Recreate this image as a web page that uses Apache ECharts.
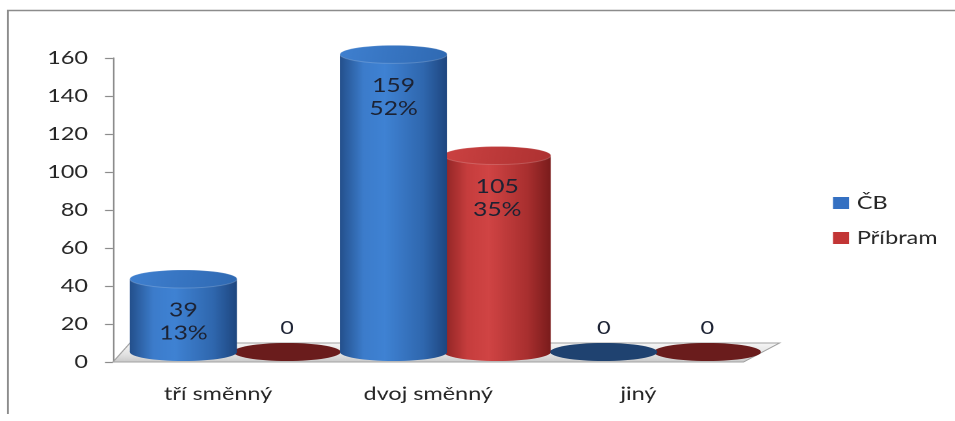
<!DOCTYPE html>
<html>
<head>
<meta charset="utf-8">
<script src="https://cdn.jsdelivr.net/npm/echarts@6/dist/echarts.min.js"></script>
<style>
  html, body { margin: 0; padding: 0; background: #fff; overflow: hidden; }
  #main { height: 421px; transform-origin: 0 0; }
</style>
</head>
<body>
<div id="main"></div>
<script>
// Shift types and counts per site
const categories = ['tří směnný', 'dvoj směnný', 'jiný'];
const seriesNames = ['ČB', 'Příbram'];
const cbValues = [39, 159, 0];
const cbPercents = [13, 52, 0];
const pribramValues = [0, 105, 0];
const pribramPercents = [0, 35, 0];

const FONT = 'Lato, "Noto Sans", sans-serif';

// The chart is laid out narrower and widened on screen by K,
// which gives the broad lettering; px() turns screen widths into layout widths.
const K = 1.3;
const SCREEN_W = 955;
const px = v => v / K;

const el = document.getElementById('main');
el.style.width = px(SCREEN_W) + 'px';
el.style.transform = 'scaleX(' + K + ')';

// cylinder look for each series
const looks = {
  'ČB': {
    offset: -0.165,
    body: ['#24508c', '#3c7ccb', '#3f82d3', '#2f67ae', '#1e467f'],
    top: ['#3f80d0', '#2f69b2'],
    flat: '#1f4270',
    legend: '#3470c2'
  },
  'Příbram': {
    offset: 0.328,
    body: ['#8e2424', '#c63d3d', '#d04444', '#a92f2f', '#7a1c1c'],
    top: ['#cc4242', '#ad3131'],
    flat: '#6a1c1c',
    legend: '#c23535'
  }
};

function hGrad(c) {
  return new echarts.graphic.LinearGradient(0, 0, 1, 0, [
    { offset: 0, color: c[0] },
    { offset: 0.22, color: c[1] },
    { offset: 0.42, color: c[2] },
    { offset: 0.78, color: c[3] },
    { offset: 1, color: c[4] }
  ]);
}

function cylinderRenderer(name, percents) {
  const look = looks[name];
  return function (params, api) {
    const idx = api.value(0);
    const val = api.value(1);
    const base = api.coord([idx, 0]);
    const top = api.coord([idx, val]);
    const band = api.size([1, 0])[0];
    const cx = base[0] + look.offset * band;
    const rx = 0.255 * band;
    const ry = 9;
    // bars stand slightly behind the front edge of the floor
    const yBase = base[1] - 10;
    const yTop = yBase - (base[1] - top[1]) * 0.985;
    const children = [];
    if (val === 0) {
      children.push({
        type: 'ellipse',
        shape: { cx: cx, cy: yBase, rx: rx, ry: ry },
        style: { fill: look.flat }
      });
      children.push({
        type: 'text',
        style: {
          text: '0', x: cx, y: yBase - 24,
          align: 'center', verticalAlign: 'middle',
          fill: '#1c2233', fontSize: 18, fontFamily: FONT
        }
      });
    } else {
      const grad = hGrad(look.body);
      children.push({
        type: 'ellipse',
        shape: { cx: cx, cy: yBase, rx: rx, ry: ry },
        style: { fill: grad }
      });
      children.push({
        type: 'rect',
        shape: { x: cx - rx, y: yTop, width: rx * 2, height: yBase - yTop },
        style: { fill: grad }
      });
      children.push({
        type: 'ellipse',
        shape: { cx: cx, cy: yTop, rx: rx, ry: ry },
        style: {
          fill: new echarts.graphic.LinearGradient(0, 0, 1, 1, [
            { offset: 0, color: look.top[0] },
            { offset: 1, color: look.top[1] }
          ]),
          stroke: 'rgba(255,255,255,0.18)', lineWidth: 1
        }
      });
      children.push({
        type: 'text',
        style: {
          text: val + '\n' + percents[idx] + '%', x: cx, y: yTop + 43,
          align: 'center', verticalAlign: 'middle',
          fill: '#1c2233', fontSize: 19, lineHeight: 23, fontFamily: FONT
        }
      });
    }
    return { type: 'group', children: children };
  };
}

function floorRenderer(params, api) {
  const cs = params.coordSys;
  const x0 = cs.x, x1 = cs.x + cs.width;
  const yF = cs.y + cs.height;
  const yB = yF - 19;
  return {
    type: 'polygon',
    shape: { points: [[x0, yF], [x1, yF], [x1 + px(36), yB], [x0 + px(17), yB]] },
    style: {
      fill: new echarts.graphic.LinearGradient(0, 0, 0, 1, [
        { offset: 0, color: '#f6f6f6' },
        { offset: 0.6, color: '#e2e2e2' },
        { offset: 1, color: '#c8c8c8' }
      ]),
      stroke: '#a2a2a2', lineWidth: 1
    }
  };
}

const chart = echarts.init(el, null, { renderer: 'canvas', devicePixelRatio: 2 });

chart.setOption({
  animation: false,
  backgroundColor: '#fff',
  textStyle: { fontFamily: FONT },
  graphic: [{
    type: 'polyline',
    shape: { points: [[px(8), 414], [px(8), 10.5], [px(SCREEN_W) + 5, 10.5]] },
    style: { stroke: '#8c8c8c', lineWidth: 1.4, fill: null },
    silent: true
  }],
  grid: { left: px(113), right: px(212), top: 58, bottom: 59 },
  legend: {
    data: seriesNames,
    orient: 'vertical',
    left: px(833),
    top: 193,
    padding: 0,
    itemWidth: px(16),
    itemHeight: 12,
    itemGap: 15,
    icon: 'rect',
    textStyle: { color: '#262626', fontSize: 18, fontFamily: FONT, lineHeight: 20, padding: [0, 0, 0, 1] }
  },
  xAxis: {
    type: 'category',
    data: categories,
    axisLine: { show: false },
    axisTick: { show: false },
    axisLabel: { color: '#262626', fontSize: 18, fontFamily: FONT, margin: 23 }
  },
  yAxis: {
    type: 'value',
    min: 0, max: 160, interval: 20,
    axisLine: { show: true, lineStyle: { color: '#8c8c8c', width: 1.2 } },
    axisTick: { show: true, length: px(8), lineStyle: { color: '#8c8c8c', width: 1.2 } },
    splitLine: { show: false },
    axisLabel: { color: '#262626', fontSize: 18, fontFamily: FONT, margin: px(25) }
  },
  series: [
    {
      type: 'custom', name: 'floor', silent: true, z: 1,
      renderItem: floorRenderer,
      data: [[0, 0]]
    },
    {
      type: 'custom', name: 'ČB', z: 3,
      itemStyle: { color: looks['ČB'].legend },
      renderItem: cylinderRenderer('ČB', cbPercents),
      encode: { x: 0, y: 1 },
      data: cbValues.map((v, i) => [i, v])
    },
    {
      type: 'custom', name: 'Příbram', z: 2,
      itemStyle: { color: looks['Příbram'].legend },
      renderItem: cylinderRenderer('Příbram', pribramPercents),
      encode: { x: 0, y: 1 },
      data: pribramValues.map((v, i) => [i, v])
    }
  ]
});
</script>
</body>
</html>
